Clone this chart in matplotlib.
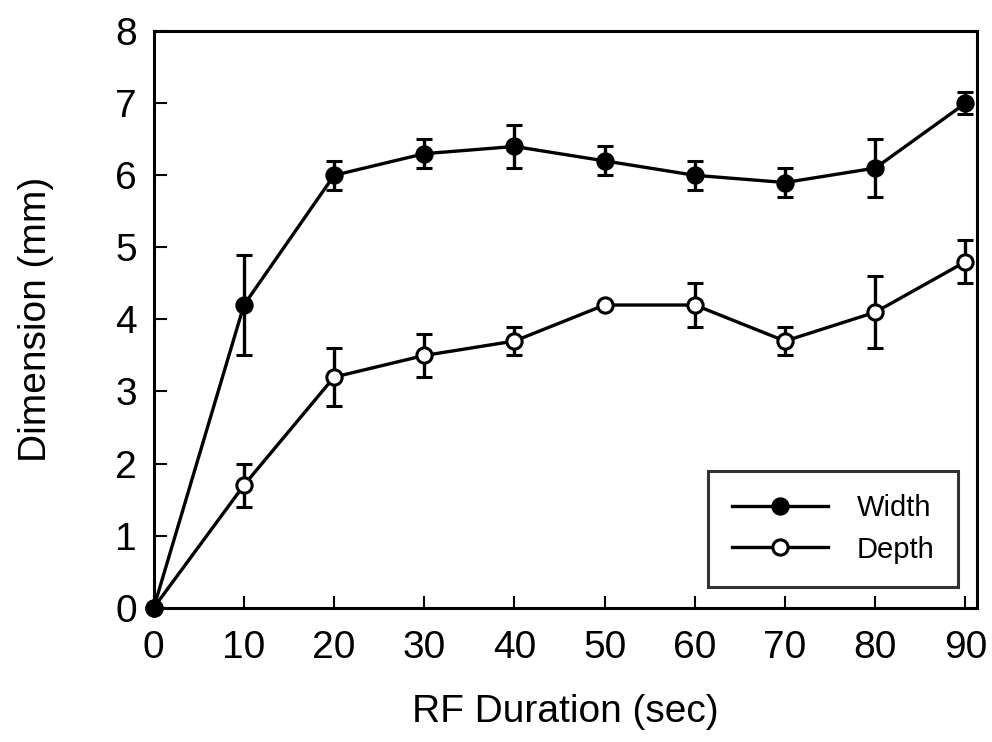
import matplotlib
matplotlib.use("Agg")
import matplotlib.pyplot as plt

plt.rcParams['font.family'] = ['Liberation Sans', 'DejaVu Sans']

# RF duration (sec)
duration = [0, 10, 20, 30, 40, 50, 60, 70, 80, 90]

# lesion width / depth (mm) with error bars
width = [0, 4.2, 6.0, 6.3, 6.4, 6.2, 6.0, 5.9, 6.1, 7.0]
width_err = [0, 0.7, 0.2, 0.2, 0.3, 0.2, 0.2, 0.2, 0.4, 0.15]
depth = [0, 1.7, 3.2, 3.5, 3.7, 4.2, 4.2, 3.7, 4.1, 4.8]
depth_err = [0, 0.3, 0.4, 0.3, 0.2, 0.0, 0.3, 0.2, 0.5, 0.3]

fig = plt.figure(figsize=(9.92, 7.42), dpi=100)
ax = fig.add_axes([0.155, 0.181, 0.83, 0.777])

style = dict(color='black', lw=2.4, marker='o', ms=11, mec='black', mew=2.2,
             capsize=5.5, capthick=2.4, elinewidth=2.4, clip_on=False)
d = ax.errorbar(duration, depth, yerr=depth_err, mfc='white', label='Depth', **style)
w = ax.errorbar(duration, width, yerr=width_err, mfc='black', label='Width', **style)

ax.set_xlim(0, 91.3)
ax.set_ylim(0, 8)
ax.set_xticks(duration)
ax.set_yticks(range(0, 9))
ax.tick_params(direction='in', length=9, width=1.5, labelsize=28,
               top=False, right=False)
ax.tick_params(axis='y', pad=12)
ax.tick_params(axis='x', pad=16)
for s in ax.spines.values():
    s.set_linewidth(2.2)

ax.set_xlabel('RF Duration (sec)', fontsize=28, labelpad=20)
ax.set_ylabel('Dimension (mm)', fontsize=28, labelpad=44)

leg = ax.legend([w[0], d[0]], ['Width', 'Depth'], loc='lower right',
                bbox_to_anchor=(0.977, 0.036), borderaxespad=0,
                fontsize=21, frameon=True, fancybox=False, handlelength=3.3,
                borderpad=0.8, labelspacing=0.45, handletextpad=1.0)
leg.get_frame().set_edgecolor('black')
leg.get_frame().set_linewidth(2.2)

fig.savefig('out.png', dpi=100)
